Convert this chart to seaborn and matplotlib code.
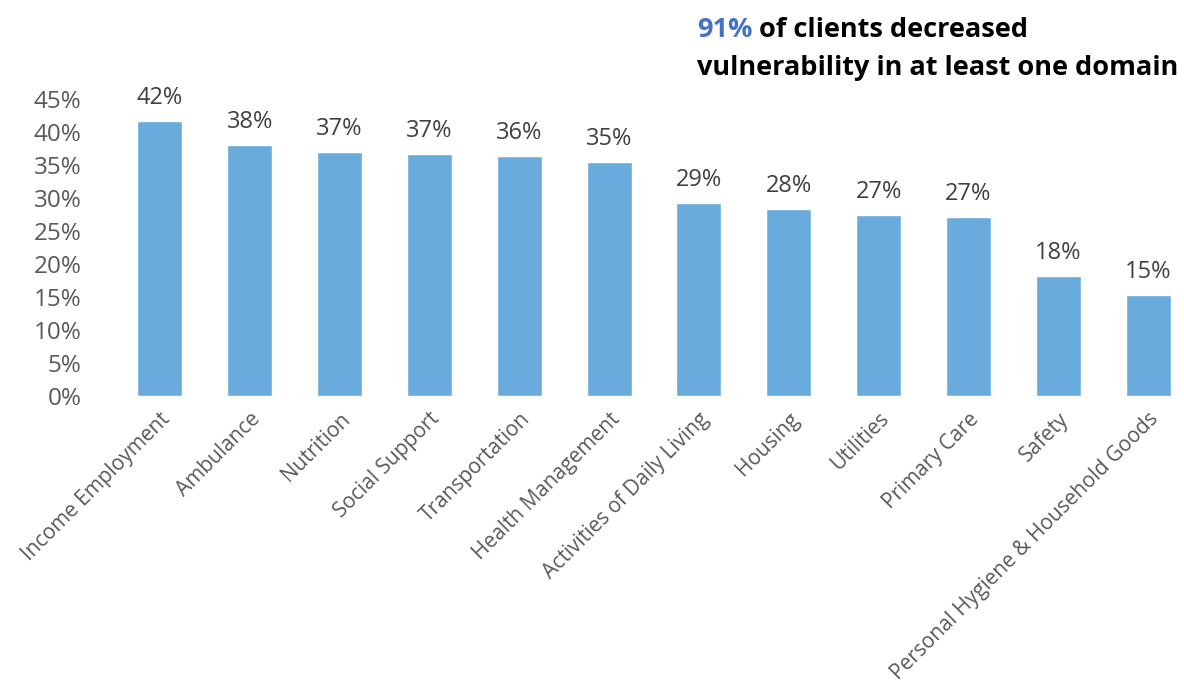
import matplotlib
matplotlib.use("Agg")
import matplotlib.pyplot as plt
import seaborn as sns
import pandas as pd

categories = ["Income Employment", "Ambulance", "Nutrition", "Social Support",
              "Transportation", "Health Management", "Activities of Daily Living",
              "Housing", "Utilities", "Primary Care", "Safety",
              "Personal Hygiene & Household Goods"]
values = [41.6, 38.0, 36.9, 36.7, 36.4, 35.4, 29.2, 28.3, 27.4, 27.1, 18.2, 15.3]
yticks = [0, 5, 10, 15, 20, 25, 30, 35, 40, 45]
headline_pct = "91%"
headline_rest1 = " of clients decreased"
headline_line2 = "vulnerability in at least one domain"

sns.set_style("white")
plt.rcParams['font.family'] = ['Open Sans', 'DejaVu Sans']

df = pd.DataFrame({"cat": categories, "val": values})

W, H = 1184, 693
fig = plt.figure(figsize=(W / 100, H / 100), dpi=100)
ax = fig.add_axes([115 / W, (H - 396) / H, (1193 - 115) / W, (396 - 99) / H])

sns.barplot(data=df, x="cat", y="val", color="#6AABDD", width=0.5,
            saturation=1, ax=ax)

ax.set_ylim(0, 45)
ax.set_xlim(-0.5, len(categories) - 0.5)
ax.set_yticks(yticks)
ax.set_yticklabels([f"{v}%" for v in yticks], fontsize=17.5, color="#595959")
ax.set_xticks(range(len(categories)))
ax.set_xticklabels(categories, rotation=45, ha="right", rotation_mode="anchor",
                   fontsize=15, color="#595959")
ax.tick_params(axis="y", length=0, pad=24)
ax.tick_params(axis="x", length=0, pad=9)
ax.set_xlabel("")
ax.set_ylabel("")
for s in ax.spines.values():
    s.set_visible(False)

for i, v in enumerate(values):
    ax.annotate(f"{round(v)}%", (i, v), xytext=(0, 8), textcoords="offset points",
                ha="center", va="bottom", fontsize=17, color="#404040")

# headline
fig.canvas.draw()
x0 = 697 / W
fs = 19.5
t1 = fig.text(x0, 1 - 30 / H, headline_pct, color="#4472C4", fontsize=fs,
              fontweight="bold", va="center", ha="left")
fig.canvas.draw()
bb = t1.get_window_extent()
fig.text(bb.x1 / W, 1 - 30 / H, headline_rest1, color="black", fontsize=fs,
         fontweight="bold", va="center", ha="left")
fig.text(x0, 1 - 68 / H, headline_line2, color="black", fontsize=fs,
         fontweight="bold", va="center", ha="left")

fig.savefig("out.png", dpi=100)
